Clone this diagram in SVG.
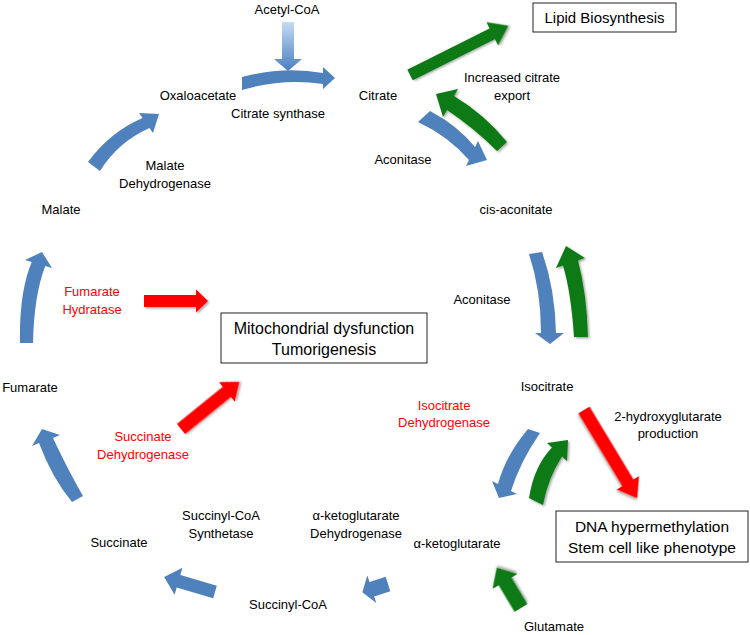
<svg xmlns="http://www.w3.org/2000/svg" width="750" height="635" viewBox="0 0 750 635">
<style>
text{font-family:"Liberation Sans",Arial,sans-serif;font-size:13px;fill:#000;text-anchor:middle}
.red{fill:#FF0000}
.big{font-size:16px}
.box{fill:#fff;stroke:#222;stroke-width:1}
.blue{fill:#4F81BD}
.green{fill:#0A7A12;filter:url(#sh)}
.rd{fill:#FF0000;filter:url(#sh)}
</style>
<defs>
<linearGradient id="ag" x1="0" y1="0" x2="0" y2="1">
<stop offset="0" stop-color="#C6DBF5"/>
<stop offset="1" stop-color="#4A7EC0"/>
</linearGradient>
<filter id="sh" x="-30%" y="-30%" width="160%" height="160%">
<feDropShadow dx="1.5" dy="1.5" stdDeviation="1.3" flood-color="#000" flood-opacity="0.35"/>
</filter>
</defs>
<rect width="750" height="635" fill="#fff"/>

<g id="connectors">
<path id="acetyl-arrow" fill="url(#ag)" d="M282,22 L294,22 L294,59 L302,59 L288,71 L274,59 L282,59 Z"/>
<path id="cs-arrow" class="blue" d="M242,77 Q283,66 323,73 L323,67 L335,78 L323,89 L323,84 Q283,78 242,90 Z"/>
<path id="mdh-arrow" class="blue" d="M88,162 Q110,132 142.5,118 L139,113 L159,114 L153,133 L149.5,128 Q118,142 100,171 Z"/>
<path id="fh-arrow" class="blue" d="M20,343 Q19,292 31.75,262 L25,260 L42,252 L52,268 L45.25,266 Q34,295 33,343 Z"/>
<path id="sdh-arrow" class="blue" d="M72,502 Q52,478 39,443 L32,446 L42,429 L60,435 L53,438 Q68,470 83,496 Z"/>
<path id="scs-arrow" class="blue" transform="translate(215,592) rotate(196.4)" d="M0,-6.5 L38,-6.5 L38,-14 L53,0 L38,14 L38,6.5 L0,6.5 Z"/>
<path id="akgdh-arrow" class="blue" transform="translate(388,584) rotate(162)" d="M0,-7.5 L17,-7.5 L17,-14.5 L27,0 L17,14.5 L17,7.5 L0,7.5 Z"/>
<path id="idh-blue" class="blue" d="M528,429 Q506,455 498,484 L492,481 L499,498 L517,494 L511,491 Q520,462 540,433 Z"/>
<path id="idh-green" class="green" d="M529,498 Q534,466 552,447.5 L547,443 L568,440 L567,461 L562,456.5 Q548,478 543,505 Z"/>
<path id="acon1-blue" class="blue" d="M430,111 Q457,125 475,147 L478,141 L487,160 L466,166 L469,160 Q448,136 418,122 Z"/>
<path id="export-green" class="green" d="M507,142 Q484,114 454,96 L458,89 L436,94 L443,117 L447,110 Q474,128 497,151 Z"/>
<path id="acon2-blue" class="blue" d="M529,254 Q541,290 541,333 L535,333 L550,344 L564,333 L556,333 Q555,288 542,252 Z"/>
<path id="acon2-green" class="green" d="M574,337 Q571,292 563,265.5 L556,268 L566,246 L585,258 L578,260.5 Q587,295 588,337 Z"/>
<path id="lipid-arrow" class="green" transform="translate(410,75) rotate(-26.6)" d="M0,-6 L92,-6 L92,-13 L110,0 L92,13 L92,6 L0,6 Z"/>
<path id="glu-arrow" class="green" transform="translate(521,608) rotate(239)" d="M0,-7.5 L31,-7.5 L31,-14.5 L47,0 L31,14.5 L31,7.5 L0,7.5 Z"/>
<path id="hg-arrow" class="rd" transform="translate(584,410) rotate(58.9)" d="M0,-6.5 L85,-6.5 L85,-13 L103,0 L85,13 L85,6.5 L0,6.5 Z"/>
<path id="fhred-arrow" class="rd" transform="translate(144,301)" d="M0,-6 L52,-6 L52,-11.5 L64,0 L52,11.5 L52,6 L0,6 Z"/>
<path id="sdhred-arrow" class="rd" transform="translate(181,429) rotate(-39)" d="M0,-6.5 L59,-6.5 L59,-12.5 L75,0 L59,12.5 L59,6.5 L0,6.5 Z"/>
</g>

<g id="acetylcoa"><text x="287" y="14">Acetyl-CoA</text></g>
<g id="oxaloacetate"><text x="198" y="100">Oxaloacetate</text></g>
<g id="citrate"><text x="378" y="100">Citrate</text></g>
<g id="citrate-synthase"><text x="278" y="118">Citrate synthase</text></g>
<g id="lipid"><rect class="box" x="533" y="3" width="143" height="29"/><text x="604.5" y="23" style="font-size:15px">Lipid Biosynthesis</text></g>
<g id="export"><text x="512" y="82">Increased citrate</text><text x="512" y="100">export</text></g>
<g id="aconitase1"><text x="403" y="164">Aconitase</text></g>
<g id="mdh"><text x="165" y="170">Malate</text><text x="165" y="188">Dehydrogenase</text></g>
<g id="malate"><text x="61" y="214">Malate</text></g>
<g id="cisaconitate"><text x="516" y="214">cis-aconitate</text></g>
<g id="aconitase2"><text x="482" y="304">Aconitase</text></g>
<g id="fh"><text class="red" x="92" y="296">Fumarate</text><text class="red" x="92" y="314">Hydratase</text></g>
<g id="mito"><rect class="box" x="221" y="313" width="206" height="50"/><text class="big" x="324" y="334">Mitochondrial dysfunction</text><text class="big" x="324" y="355">Tumorigenesis</text></g>
<g id="isocitrate"><text x="547" y="391">Isocitrate</text></g>
<g id="hg"><text x="668" y="421">2-hydroxyglutarate</text><text x="668" y="438">production</text></g>
<g id="idh"><text class="red" x="444" y="410">Isocitrate</text><text class="red" x="444" y="427">Dehydrogenase</text></g>
<g id="dna"><rect class="box" x="556" y="511" width="192" height="51"/><text x="652" y="532" style="font-size:15.5px">DNA hypermethylation</text><text x="652" y="553" style="font-size:15.5px">Stem cell like phenotype</text></g>
<g id="fumarate"><text x="30" y="392">Fumarate</text></g>
<g id="sdh"><text class="red" x="143" y="441">Succinate</text><text class="red" x="143" y="459">Dehydrogenase</text></g>
<g id="succinate"><text x="119" y="547">Succinate</text></g>
<g id="scs"><text x="221" y="520">Succinyl-CoA</text><text x="221" y="538">Synthetase</text></g>
<g id="akgdh"><text x="356" y="520">α-ketoglutarate</text><text x="356" y="538">Dehydrogenase</text></g>
<g id="akg"><text x="457" y="548">α-ketoglutarate</text></g>
<g id="succinylcoa"><text x="288" y="609">Succinyl-CoA</text></g>
<g id="glutamate"><text x="554" y="631">Glutamate</text></g>
</svg>
